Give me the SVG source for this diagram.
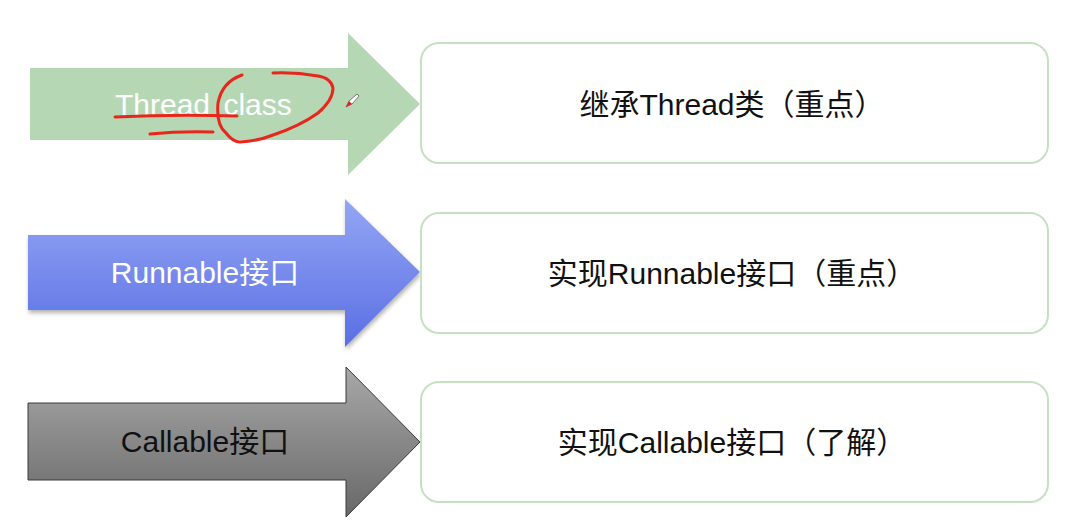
<svg xmlns="http://www.w3.org/2000/svg" width="1088" height="522" viewBox="0 0 1088 522">
<style>
.t{font-family:"Liberation Sans","Noto Sans CJK SC",sans-serif;font-size:30px;text-anchor:middle}
.box{fill:#fff;stroke:#c6e0c2;stroke-width:2}
.ink{fill:none;stroke:#e8261c;stroke-width:3;stroke-linecap:round;stroke-linejoin:round}
</style>
<defs>
<linearGradient id="gBlue" x1="0" y1="0" x2="0" y2="1">
<stop offset="0" stop-color="#94a6f4"/>
<stop offset="1" stop-color="#5a6fe4"/>
</linearGradient>
<linearGradient id="gGray" x1="0" y1="0" x2="0" y2="1">
<stop offset="0" stop-color="#a8a8a8"/>
<stop offset="1" stop-color="#686868"/>
</linearGradient>
<filter id="sh" x="-5%" y="-5%" width="115%" height="120%">
<feDropShadow dx="1" dy="3" stdDeviation="2" flood-color="#000" flood-opacity="0.3"/>
</filter>
</defs>
<rect width="1088" height="522" fill="#fff"/>

<g id="arrow-thread">
<path d="M30,68 H348 V33 L420,104 L348,175 V140 H30 Z" fill="#b6d7b4"/>
<text class="t" x="115" y="115" fill="#fff" style="text-anchor:start">Thread <tspan dx="5">class</tspan></text>
</g>
<g id="annotation">
<path class="ink" d="M115,117 Q175,114 237,116"/>
<path class="ink" d="M150,134 Q180,131 213,132"/>
<path class="ink" d="M242,75 Q222,82 218,103 Q216,125 226,133 Q233,142 240,142 Q258,141 273,135 Q300,126 318,113 Q333,100 333,88 Q331,78 318,76 Q295,72 273,73"/>
<g id="pen-cursor">
<path d="M346,107 L349,101 L357,94 L359,96 L352,104 Z" fill="#fff" stroke="#777" stroke-width="1"/>
<path d="M346,107 L349,101 L352,104 Z" fill="#e02020"/>
</g>
</g>

<g id="arrow-runnable">
<path d="M28,235 H345 V199 L420,272 L345,347 V310 H28 Z" fill="url(#gBlue)" filter="url(#sh)"/>
<text class="t" x="205" y="283" fill="#fff">Runnable接口</text>
</g>

<g id="arrow-callable">
<path d="M28,403 H346 V367 L420,442 L346,517 V480 H28 Z" fill="url(#gGray)" stroke="#3a3a3a" stroke-width="1"/>
<text class="t" x="205" y="452" fill="#111">Callable接口</text>
</g>

<g id="box-thread">
<rect class="box" x="421" y="43" width="627" height="120" rx="18"/>
<text class="t" x="732" y="115" fill="#111">继承Thread类（重点）</text>
</g>
<g id="box-runnable">
<rect class="box" x="421" y="213" width="627" height="120" rx="18"/>
<text class="t" x="732" y="284" fill="#111">实现Runnable接口（重点）</text>
</g>
<g id="box-callable">
<rect class="box" x="421" y="382" width="627" height="120" rx="18"/>
<text class="t" x="732" y="453" fill="#111">实现Callable接口（了解）</text>
</g>

<g id="connectors"></g>
</svg>
